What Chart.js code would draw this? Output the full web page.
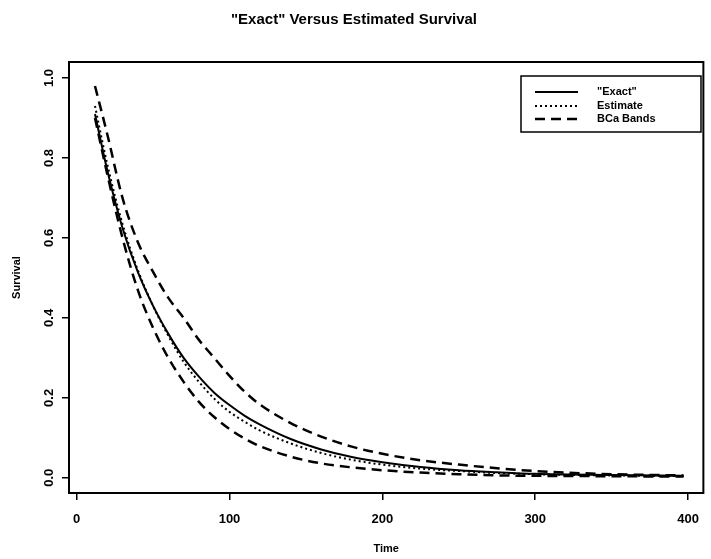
<!DOCTYPE html>
<html>
<head>
<meta charset="utf-8">
<title>Exact vs Estimated Survival</title>
<script src="https://cdn.jsdelivr.net/npm/chart.js@4.4.0/dist/chart.umd.min.js"></script>
<style>
  html, body { margin: 0; padding: 0; background: #fff; }
  #wrap { width: 711px; height: 559px; }
</style>
</head>
<body>
<div id="wrap"><canvas id="c" width="711" height="559"></canvas></div>
<script>
// ============ data ============
const TIMES     = [12, 20, 30, 40, 50, 60, 70, 80, 90, 100, 110, 120, 140, 160, 180, 200, 225, 250, 275, 300, 350, 397];
const EXACT     = [0.91, 0.77, 0.625, 0.515, 0.43, 0.36, 0.30, 0.253, 0.213, 0.182, 0.155, 0.133, 0.097, 0.071, 0.052, 0.039, 0.027, 0.019, 0.014, 0.010, 0.007, 0.005];
const ESTIMATE  = [0.93, 0.785, 0.635, 0.52, 0.43, 0.355, 0.29, 0.24, 0.198, 0.165, 0.14, 0.118, 0.086, 0.062, 0.045, 0.033, 0.023, 0.017, 0.012, 0.009, 0.006, 0.004];
const BCA_UPPER = [0.98, 0.86, 0.70, 0.59, 0.515, 0.45, 0.40, 0.345, 0.30, 0.255, 0.215, 0.183, 0.137, 0.103, 0.078, 0.06, 0.044, 0.033, 0.024, 0.017, 0.009, 0.006];
const BCA_LOWER = [0.90, 0.76, 0.60, 0.47, 0.375, 0.30, 0.24, 0.19, 0.152, 0.122, 0.098, 0.079, 0.053, 0.036, 0.026, 0.019, 0.013, 0.009, 0.006, 0.005, 0.004, 0.003];

const X_TICKS = [0, 100, 200, 300, 400];
const Y_TICKS = [0.0, 0.2, 0.4, 0.6, 0.8, 1.0];
const LEGEND_LABELS = ['"Exact"', 'Estimate', 'BCa Bands'];
const TITLE = '"Exact" Versus Estimated Survival';

const FONT = 'Liberation Sans, Arial, Helvetica, sans-serif';

const pts = ys => TIMES.map((t, i) => ({x: t, y: ys[i]}));
const line = (ys, dash, width) => ({
  data: pts(ys), borderColor: '#000', borderWidth: width, borderDash: dash,
  pointRadius: 0, fill: false, cubicInterpolationMode: 'monotone'
});

// box round the plot and the legend inside it, R style
const frame = {
  id: 'frame',
  afterDraw(chart) {
    const {ctx, chartArea: a} = chart;
    ctx.save();
    ctx.strokeStyle = '#000';
    ctx.lineWidth = 2;
    ctx.setLineDash([]);
    ctx.strokeRect(a.left, a.top, a.right - a.left, a.bottom - a.top);

    // legend
    const bx = 521, by = 76, bw = 180, bh = 56, rowY = [92, 106, 119];
    ctx.lineWidth = 1.5;
    ctx.strokeRect(bx, by, bw, bh);
    ctx.font = 'bold 11px ' + FONT;
    ctx.fillStyle = '#000';
    ctx.textBaseline = 'middle';
    LEGEND_LABELS.forEach((lab, i) => {
      const ds = chart.data.datasets[i];
      ctx.beginPath();
      ctx.lineWidth = ds.borderWidth;
      ctx.setLineDash(ds.borderDash || []);
      ctx.moveTo(535, rowY[i]);
      ctx.lineTo(578, rowY[i]);
      ctx.stroke();
      ctx.setLineDash([]);
      ctx.fillText(lab, 597, rowY[i]);
    });
    ctx.restore();
  }
};

new Chart(document.getElementById('c'), {
  type: 'line',
  data: {
    datasets: [
      line(EXACT, [], 2),
      line(ESTIMATE, [2, 3], 2),
      line(BCA_UPPER, [10, 6], 2.5),
      line(BCA_LOWER, [10, 6], 2.5)
    ]
  },
  options: {
    responsive: false,
    animation: false,
    layout: {padding: {left: 0, right: 3, top: 0, bottom: 0}},
    plugins: {
      legend: {display: false},
      tooltip: {enabled: false},
      title: {
        display: true, text: TITLE, color: '#000',
        font: {family: FONT, size: 15, weight: 'bold'},
        padding: {top: 11, bottom: 33}
      }
    },
    scales: {
      x: {
        type: 'linear', min: -5, max: 410,
        afterBuildTicks: s => { s.ticks = X_TICKS.map(v => ({value: v})); },
        afterFit: s => { s.height = 66; },
        grid: {display: true, drawOnChartArea: false, drawTicks: true, tickLength: 7, color: '#000', lineWidth: 1.5},
        border: {display: false},
        ticks: {color: '#000', font: {family: FONT, size: 13, weight: 'bold'}, padding: 12, maxRotation: 0},
        title: {display: true, text: 'Time', color: '#000', font: {family: FONT, size: 11, weight: 'bold'}, padding: {top: 0, bottom: 3}}
      },
      y: {
        type: 'linear', min: -0.038, max: 1.04,
        afterBuildTicks: s => { s.ticks = Y_TICKS.map(v => ({value: v})); },
        afterFit: s => { s.width = 69; },
        grid: {display: true, drawOnChartArea: false, drawTicks: true, tickLength: 7, color: '#000', lineWidth: 1.5},
        border: {display: false},
        ticks: {
          color: '#000', font: {family: FONT, size: 13, weight: 'bold'},
          minRotation: 90, maxRotation: 90, crossAlign: 'center', padding: 4,
          callback: v => v.toFixed(1)
        },
        title: {display: true, text: 'Survival', color: '#000', font: {family: FONT, size: 11, weight: 'bold'}, padding: {top: 10, bottom: 0}}
      }
    }
  },
  plugins: [frame]
});
</script>
</body>
</html>
